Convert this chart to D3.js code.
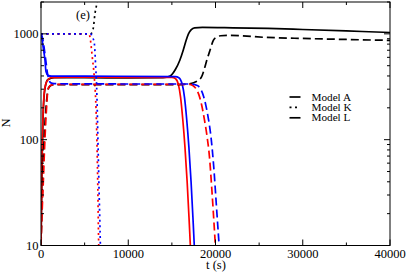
<!DOCTYPE html>
<html><head><meta charset="utf-8">
<script src="https://cdn.jsdelivr.net/npm/d3@7"></script>
<style>body{margin:0;background:#fff}svg{display:block}</style>
</head><body><svg id="c" width="407" height="273"></svg>
<script>
// ---- data: [t (s), N] ----
const xTicks = [0, 10000, 20000, 30000, 40000];
const xMinorTicks = [5000, 15000, 25000, 35000];
const yTicks = [10, 100, 1000];
const yTickLabels = ["10", "100", "1000"];
const legendLabels = ["Model A", "Model K", "Model L"];

const modelA_black = [[0,10],[150,80],[300,220],[500,320],[800,370],[1500,385],[5000,385],[10000,384],[14000,386],[14800,400],[15400,460],[15900,560],[16300,700],[16600,850],[16900,1000],[17200,1090],[17600,1140],[18500,1150],[22000,1140],[26000,1125],[30000,1100],[35000,1065],[40000,1030]];
const modelA_red = [[0,10],[60,30],[120,70],[200,140],[300,230],[450,310],[700,360],[1100,385],[3000,390],[10000,388],[15000,388],[15400,378],[15750,331],[16000,251],[16250,155],[16500,85],[16750,40],[17000,16],[17150,9],[17250,7]];
const modelA_blue = [[0,1000],[150,850],[300,700],[460,560],[570,440],[800,405],[1200,398],[5000,398],[15400,395],[15800,385],[16200,330],[16450,250],[16700,155],[16950,85],[17200,40],[17450,16],[17600,9],[17700,7]];
const modelK_black = [[0,1000],[5700,1000],[5960,1100],[6040,1200],[6110,1370],[6190,1560],[6340,1820],[6450,2100]];
const modelK_red = [[0,1000],[5500,1000],[5620,927],[5880,600],[6110,389],[6270,236],[6380,123],[6500,40],[6610,10.5],[6650,8]];
const modelK_blue = [[0,1000],[5700,1000],[5900,930],[6110,814],[6270,483],[6380,313],[6450,190],[6500,123],[6650,35],[6800,10.5],[6830,8]];
const modelL_black = [[0,10],[100,22],[250,60],[400,120],[550,190],[700,260],[900,310],[1200,328],[1800,332],[10000,332],[16000,332],[16700,335],[17500,345],[18000,362],[18400,392],[18700,460],[19000,562],[19370,699],[19750,868],[20130,933],[20600,960],[21500,968],[25900,925],[30000,905],[35000,885],[40000,868]];
const modelL_red = [[0,10],[100,18],[260,39],[400,80],[550,150],[700,240],[770,293],[900,315],[1200,328],[1800,333],[10000,333],[17000,333],[17400,325],[17800,300],[18100,265],[18400,215],[18700,160],[19000,112],[19300,70],[19600,32],[19900,13],[20000,9.5],[20100,7]];
const modelL_blue = [[0,1000],[150,930],[300,800],[450,650],[600,520],[750,420],[900,370],[1100,345],[1500,338],[10000,336],[17000,336],[17600,332],[18000,322],[18300,300],[18600,262],[18900,210],[19200,155],[19500,103],[19800,55],[20100,24],[20400,10.5],[20500,8]];

const series = [
  {d: modelA_black, c: "#000", s: "solid"},
  {d: modelA_red, c: "#f00", s: "solid"},
  {d: modelA_blue, c: "#00f", s: "solid"},
  {d: modelK_black, c: "#000", s: "dot"},
  {d: modelK_red, c: "#f00", s: "dot"},
  {d: modelK_blue, c: "#00f", s: "dot"},
  {d: modelL_black, c: "#000", s: "dash"},
  {d: modelL_red, c: "#f00", s: "dash"},
  {d: modelL_blue, c: "#00f", s: "dash"}
];
const dashes = {solid: null, dot: "2,3.5", dash: "8,4"};
const FONT = "Liberation Serif";

const L = 41, R = 390, T = 2, B = 245.5;
const x = d3.scaleLinear().domain([0, 40000]).range([L, R]);
const y = d3.scaleLog().domain([10, 2000]).range([B, T]);
const svg = d3.select("#c");

svg.append("clipPath").attr("id", "clip").append("rect")
  .attr("x", L).attr("y", T).attr("width", R - L).attr("height", B - T);

const line = d3.line().x(p => x(p[0])).y(p => y(p[1])).curve(d3.curveMonotoneX);
const g = svg.append("g").attr("clip-path", "url(#clip)");
series.forEach(s => {
  g.append("path").attr("d", line(s.d)).attr("fill", "none")
    .attr("stroke", s.c).attr("stroke-width", 1.7)
    .attr("stroke-dasharray", dashes[s.s]);
});

// frame
svg.append("rect").attr("x", L).attr("y", T).attr("width", R - L).attr("height", B - T)
  .attr("fill", "none").attr("stroke", "#000").attr("stroke-width", 1);

// ticks inside on all four sides
const ax = svg.append("g").attr("stroke", "#000").attr("stroke-width", 1);
xTicks.forEach(t => {
  ax.append("line").attr("x1", x(t)).attr("x2", x(t)).attr("y1", B).attr("y2", B - 6);
  ax.append("line").attr("x1", x(t)).attr("x2", x(t)).attr("y1", T).attr("y2", T + 6);
});
xMinorTicks.forEach(t => {
  ax.append("line").attr("x1", x(t)).attr("x2", x(t)).attr("y1", B).attr("y2", B - 3);
  ax.append("line").attr("x1", x(t)).attr("x2", x(t)).attr("y1", T).attr("y2", T + 3);
});
const yMinor = [];
yTicks.forEach(dec => { for (let k = 2; k <= 9; k++) if (dec * k <= 2000) yMinor.push(dec * k); });
yTicks.forEach(v => {
  ax.append("line").attr("x1", L).attr("x2", L + 6).attr("y1", y(v)).attr("y2", y(v));
  ax.append("line").attr("x1", R).attr("x2", R - 6).attr("y1", y(v)).attr("y2", y(v));
});
yMinor.forEach(v => {
  ax.append("line").attr("x1", L).attr("x2", L + 3).attr("y1", y(v)).attr("y2", y(v));
  ax.append("line").attr("x1", R).attr("x2", R - 3).attr("y1", y(v)).attr("y2", y(v));
});

function txt(xx, yy, s, size, anchor) {
  return svg.append("text").attr("x", xx).attr("y", yy).attr("font-family", FONT)
    .attr("font-size", size).attr("text-anchor", anchor || "start").attr("fill", "#000").text(s);
}
// tick labels
xTicks.forEach(t => txt(x(t), 257.5, d3.format("d")(t), 12.5, "middle"));
yTicks.forEach((v, i) => txt(38.5, y(v) + 4.2, yTickLabels[i], 12.5, "end"));

// axis titles
txt(216, 268.5, "t (s)", 12.5, "middle");
svg.append("text").attr("transform", "translate(9.5,123) rotate(-90)").attr("text-anchor", "middle")
  .attr("font-family", FONT).attr("font-size", 12.5).text("N");
txt(83, 18.5, "(e)", 12.5, "middle");

// legend
const legStyles = ["solid", "dot", "dash"];
legendLabels.forEach((lab, i) => {
  const yy = 97 + i * 10.4;
  svg.append("line").attr("x1", 289.5).attr("x2", 300.5).attr("y1", yy).attr("y2", yy)
    .attr("stroke", "#000").attr("stroke-width", 1.7)
    .attr("stroke-dasharray", legStyles[i] === "dot" ? "2,3.5" : null);
  txt(311.5, yy + 3.6, lab, 11.2);
});
</script></body></html>
